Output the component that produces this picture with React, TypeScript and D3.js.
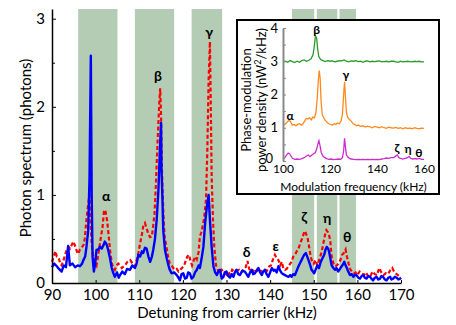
import React, { useEffect, useRef } from 'react';
import * as d3 from 'd3';

// shaded regions (kHz)
const bandStart = [96, 109, 122, 145, 150.7, 155.9];
const bandEnd = [105, 118, 129, 150.1, 155.4, 159.7];

// main spectrum, blue solid
const blueFreq = [
  90.0, 90.5, 91.1, 91.6, 92.2, 92.7, 93.2, 93.7, 94.1, 94.7, 95.3, 95.9, 96.4, 96.9, 97.2, 97.6, 97.9, 98.3,
  98.6, 98.9, 99.1, 99.3, 99.6, 99.9, 100.2, 100.6, 101.0, 101.4, 101.8, 102.1, 102.4, 102.7, 103.0, 103.3,
  103.7, 104.0, 104.4, 104.9, 105.3, 105.6, 106.1, 106.7, 107.2, 107.9, 108.4, 109.0, 109.4, 109.8, 110.2,
  110.6, 110.9, 111.3, 111.7, 112.1, 112.5, 112.9, 113.2, 113.6, 114.0, 114.4, 114.8, 115.0, 115.1, 115.3,
  115.5, 115.9, 116.3, 116.7, 117.0, 117.4, 118.0, 118.6, 119.0, 119.3, 119.7, 120.1, 120.5, 120.9, 121.2,
  121.6, 122.0, 122.4, 122.8, 123.2, 123.6, 123.9, 124.3, 124.7, 125.1, 125.5, 125.9, 126.2, 126.6, 127.0,
  127.4, 127.8, 128.1, 128.5, 128.9, 129.3, 129.6, 130.0, 130.4, 130.8, 131.2, 131.6, 131.9, 132.3, 132.7,
  133.1, 133.6, 134.2, 134.6, 135.0, 135.4, 135.8, 136.1, 136.5, 136.9, 137.3, 137.7, 138.1, 138.4, 138.8,
  139.2, 139.6, 140.0, 140.4, 140.8, 141.1, 141.5, 141.9, 142.3, 142.7, 143.0, 143.4, 143.8, 144.2, 144.6,
  144.9, 145.3, 145.7, 146.1, 146.5, 146.9, 147.2, 147.6, 147.8, 148.2, 148.5, 148.8, 149.2, 149.5, 149.8,
  150.1, 150.5, 150.8, 151.2, 151.6, 152.0, 152.4, 152.7, 153.0, 153.3, 153.5, 153.8, 154.1, 154.5, 154.9,
  155.2, 155.6, 156.0, 156.4, 156.7, 157.0, 157.3, 157.6, 157.9, 158.3, 158.7, 159.1, 159.4, 159.8, 160.2,
  160.6, 161.0, 161.4, 161.7, 162.1, 162.5, 162.9, 163.2, 163.6, 164.0, 164.4, 164.8, 165.2, 165.5, 165.9,
  166.3, 166.7, 167.1, 167.5, 167.8, 168.2, 168.6, 169.0, 169.4, 169.8, 170.0,
];
const blueVal = [
  0.18, 0.22, 0.19, 0.16, 0.13, 0.2, 0.18, 0.42, 0.2, 0.22, 0.18, 0.2, 0.19, 0.22, 0.26, 0.3, 0.41, 0.6,
  1.2, 2.58, 1.0, 0.3, 0.13, 0.22, 0.375, 0.38, 0.41, 0.39, 0.43, 0.47, 0.45, 0.41, 0.35, 0.28,
  0.17, 0.12, 0.07, 0.12, 0.06, 0.09, 0.13, 0.1, 0.16, 0.15, 0.2, 0.17, 0.22, 0.32, 0.3,
  0.36, 0.34, 0.4, 0.39, 0.3, 0.24, 0.3, 0.375, 0.5, 0.72, 1.06, 1.6, 1.82, 1.3, 0.98,
  0.6, 0.375, 0.28, 0.2, 0.15, 0.11, 0.12, 0.09, 0.06, 0.03, 0.1, 0.11, 0.05, 0.06, 0.12,
  0.11, 0.05, 0.07, 0.12, 0.15, 0.2, 0.17, 0.28, 0.41, 0.68, 0.87, 1.0, 0.72, 0.41, 0.19,
  0.12, 0.09, 0.13, 0.15, 0.05, 0.07, 0.12, 0.13, 0.08, 0.06, 0.1, 0.07, 0.12, 0.15, 0.1,
  0.09, 0.14, 0.13, 0.1, 0.07, 0.12, 0.15, 0.1, 0.11, 0.14, 0.17, 0.12, 0.09, 0.13, 0.15,
  0.1, 0.07, 0.12, 0.17, 0.14, 0.15, 0.12, 0.19, 0.14, 0.11, 0.1, 0.09, 0.08, 0.07, 0.09,
  0.07, 0.1, 0.09, 0.14, 0.19, 0.23, 0.26, 0.3, 0.32, 0.34, 0.3, 0.26, 0.2, 0.15, 0.13,
  0.11, 0.16, 0.2, 0.17, 0.24, 0.28, 0.32, 0.38, 0.41, 0.39, 0.36, 0.28, 0.2, 0.17, 0.15,
  0.17, 0.13, 0.16, 0.19, 0.21, 0.24, 0.2, 0.17, 0.13, 0.09, 0.1, 0.07, 0.09, 0.09, 0.06,
  0.05, 0.08, 0.09, 0.06, 0.05, 0.08, 0.07, 0.05, 0.03, 0.06, 0.07, 0.04, 0.05, 0.08, 0.07,
  0.04, 0.03, 0.06, 0.07, 0.04, 0.05, 0.07, 0.06, 0.04, 0.05, 0.06,
];

// main spectrum, red dashed
const redFreq = [
  90.0, 90.4, 90.8, 91.1, 91.5, 91.9, 92.2, 92.6, 93.0, 93.4, 93.8, 94.1, 94.5, 94.9, 95.3, 95.7, 96.0, 96.4,
  96.8, 97.2, 97.5, 97.9, 98.3, 98.6, 98.8, 99.1, 99.3, 99.7, 100.2, 100.6, 101.0, 101.3, 101.6, 101.9, 102.2,
  102.5, 102.7, 103.0, 103.3, 103.7, 104.0, 104.4, 104.8, 105.2, 105.6, 106.0, 106.7, 107.3, 107.9, 108.5,
  109.0, 109.4, 109.8, 110.2, 110.6, 110.9, 111.3, 111.7, 112.1, 112.5, 112.9, 113.2, 113.5, 113.8, 114.2,
  114.6, 114.8, 115.0, 115.2, 115.5, 115.8, 116.2, 116.6, 117.0, 117.4, 117.8, 118.2, 118.6, 119.0, 119.4,
  119.8, 120.3, 120.7, 121.0, 121.4, 121.8, 122.1, 122.5, 122.9, 123.2, 123.6, 123.9, 124.2, 124.6, 124.9,
  125.3, 125.6, 125.9, 126.2, 126.4, 126.6, 126.9, 127.2, 127.6, 128.0, 128.5, 128.9, 129.3, 129.7, 130.1,
  130.5, 130.9, 131.3, 131.8, 132.3, 132.9, 133.4, 133.9, 134.4, 134.8, 135.2, 135.6, 136.0, 136.5, 137.0,
  137.3, 137.8, 138.3, 138.8, 139.3, 139.8, 140.2, 140.6, 141.1, 141.5, 141.9, 142.3, 142.7, 143.0, 143.4,
  143.8, 144.2, 144.6, 144.9, 145.3, 145.7, 146.1, 146.5, 146.9, 147.3, 147.7, 148.0, 148.3, 148.6, 148.9,
  149.3, 149.6, 150.0, 150.4, 150.8, 151.1, 151.5, 151.8, 152.2, 152.6, 152.9, 153.2, 153.5, 153.8, 154.1,
  154.5, 154.9, 155.3, 155.7, 156.1, 156.5, 156.9, 157.3, 157.6, 158.0, 158.4, 158.8, 159.2, 159.6, 160.0,
  160.5, 161.0, 161.5, 162.0, 162.5, 163.0, 163.5, 164.0, 164.5, 165.0, 165.5, 166.0, 166.5, 167.0, 167.5,
  168.0, 168.5, 169.0, 169.5, 170.0,
];
const redVal = [
  0.24, 0.3, 0.36, 0.3, 0.29, 0.22, 0.2, 0.25, 0.32, 0.38, 0.41, 0.39, 0.43, 0.47, 0.42, 0.36, 0.33, 0.38,
  0.4, 0.43, 0.5, 0.72, 0.9, 1.0, 0.7, 0.45, 0.34, 0.25, 0.2, 0.32, 0.45, 0.55, 0.64, 0.81, 0.83,
  0.75, 0.68, 0.53, 0.375, 0.23, 0.18, 0.15, 0.2, 0.22, 0.2, 0.17, 0.2, 0.24, 0.26, 0.22,
  0.19, 0.26, 0.34, 0.45, 0.55, 0.64, 0.68, 0.62, 0.55, 0.52, 0.53, 0.65, 0.79, 1.1, 1.6,
  2.05, 2.21, 1.9, 1.3, 0.83, 0.53, 0.42, 0.3, 0.22, 0.2, 0.17, 0.15, 0.16, 0.13, 0.15,
  0.17, 0.2, 0.26, 0.3, 0.32, 0.24, 0.2, 0.26, 0.3, 0.27, 0.35, 0.53, 0.57, 0.66, 0.75,
  0.94, 1.5, 2.3, 2.74, 2.0, 1.2, 0.72, 0.41, 0.2, 0.15, 0.11, 0.15, 0.13, 0.11, 0.09,
  0.12, 0.09, 0.15, 0.13, 0.14, 0.15, 0.12, 0.15, 0.18, 0.25, 0.16, 0.13, 0.12, 0.16, 0.14,
  0.17, 0.13, 0.14, 0.15, 0.14, 0.19, 0.2, 0.26, 0.32, 0.28, 0.26, 0.2, 0.24, 0.17, 0.15,
  0.16, 0.19, 0.22, 0.24, 0.3, 0.32, 0.36, 0.39, 0.45, 0.5, 0.56, 0.59, 0.55, 0.51, 0.42,
  0.3, 0.25, 0.22, 0.26, 0.2, 0.24, 0.3, 0.35, 0.45, 0.55, 0.6, 0.58, 0.55, 0.47, 0.3,
  0.22, 0.19, 0.2, 0.22, 0.26, 0.32, 0.34, 0.38, 0.3, 0.22, 0.15, 0.13, 0.11, 0.12, 0.09,
  0.13, 0.11, 0.09, 0.12, 0.07, 0.08, 0.13, 0.1, 0.09, 0.17, 0.12, 0.09, 0.11, 0.1, 0.14,
  0.17, 0.12, 0.1, 0.08, 0.07,
];

// peak labels in the main plot
const peakNames = ['α', 'β', 'γ', 'δ', 'ε', 'ζ', 'η', 'θ'];
const peakFreq = [102.4, 114.3, 126, 134.6, 141.3, 147.8, 153.1, 157.7];
const peakVal = [0.99, 2.35, 2.85, 0.35, 0.42, 0.75, 0.74, 0.52];

// inset: phase-modulation power density, three offset traces
const greenFreq = [
  100, 101, 102, 103, 104, 105, 106, 107, 108, 109, 110, 111, 112, 112.8, 113.4, 113.8, 114.3, 114.7, 115.2,
  116, 117, 118, 119, 120, 121, 122, 123, 124, 125, 126, 127, 128, 129, 130, 131, 132, 133, 134, 135, 136,
  137, 138, 139, 140, 141, 142, 143, 144, 145, 146, 147, 148, 149, 150, 151, 152, 153, 154, 155, 156, 157,
  158, 159, 160,
];
const greenVal = [
  2.98, 3.0, 2.97, 3.02, 2.99, 2.96, 3.0, 2.97, 3.02, 3.04, 3.0, 3.03, 3.08, 3.2, 3.5, 3.76, 3.7, 3.4, 3.15,
  3.05, 3.02, 2.99, 3.02, 3.0, 3.01, 2.98, 3.0, 3.02, 3.01, 3.04, 3.0, 2.98, 3.01, 3.0, 3.02, 2.99, 3.0, 2.97,
  3.0, 3.01, 2.98, 3.0, 2.99, 3.0, 3.01, 2.98, 2.99, 3.0, 2.98, 3.0, 3.0, 2.98, 2.97, 3.0, 2.98, 2.99, 3.0,
  2.99, 2.98, 3.0, 2.99, 3.0, 2.98, 2.98,
];
const orangeFreq = [
  100, 100.8, 101.5, 102.2, 102.8, 103.4, 104, 104.8, 105.5, 106.3, 107, 107.8, 108.5, 109.2, 109.9, 110.6,
  111.3, 112, 112.7, 113.4, 114, 114.6, 115.0, 115.4, 115.8, 116.2, 116.7, 117.3, 118, 118.8, 119.5, 120.3,
  121, 121.8, 122.5, 123.2, 124, 124.7, 125.3, 125.8, 126.2, 126.6, 127, 127.6, 128.3, 129, 129.8, 130.5,
  131.3, 132, 133, 134, 135, 136, 137, 138, 139, 140, 141, 142, 143, 144, 145, 146, 147, 148, 149, 150, 151,
  152, 153, 154, 155, 156, 157, 158, 159, 160,
];
const orangeVal = [
  1.08, 1.1, 1.15, 1.2, 1.22, 1.15, 1.08, 1.1, 1.06, 1.1, 1.12, 1.08, 1.12, 1.2, 1.28, 1.26,
  1.3, 1.24, 1.32, 1.3, 1.45, 1.9, 2.4, 2.72, 2.5, 1.8, 1.4, 1.3, 1.22, 1.16, 1.12, 1.1,
  1.08, 1.12, 1.1, 1.14, 1.12, 1.2, 1.4, 2.0, 2.38, 1.9, 1.45, 1.3, 1.25, 1.2, 1.12, 1.1,
  1.06, 1.08, 1.04, 1.06, 1.02, 1.05, 1.03, 1.0, 1.04, 1.02, 1.0, 1.03, 1.0, 0.98, 1.02, 1.0, 0.99, 1.01, 0.98, 1.0, 0.97,
  1.0, 0.98, 0.99, 0.97, 1.0, 0.98, 0.97, 0.99, 0.98,
];
const magentaFreq = [
  100, 100.8, 101.5, 102.2, 102.8, 103.4, 104, 105, 106, 107, 108, 109, 110, 110.8, 111.5, 112.3, 113, 113.7,
  114.3, 114.8, 115.3, 115.8, 116.3, 117, 117.8, 118.6, 119.5, 120.5, 121.5, 122.5, 123.5, 124.5, 125.3, 125.8,
  126.2, 126.6, 127, 127.6, 128.3, 129, 130, 131, 132, 133, 134, 135, 136, 137, 138, 139, 140, 141, 142, 143,
  144, 145, 146, 147, 147.8, 148.6, 149.3, 150, 151, 152, 153, 153.7, 154.3, 155, 156, 157, 158, 159, 160,
];
const magentaVal = [
  0.05, 0.1, 0.18, 0.24, 0.22, 0.15, 0.08, 0.05, 0.06, 0.05, 0.07, 0.1, 0.15, 0.18, 0.13, 0.18, 0.22, 0.25,
  0.35, 0.5, 0.61, 0.45, 0.25, 0.15, 0.1, 0.07, 0.05, 0.06, 0.04, 0.05, 0.06, 0.05, 0.1, 0.3,
  0.68, 0.4, 0.18, 0.12, 0.08, 0.06, 0.05, 0.04, 0.05, 0.04, 0.05, 0.04, 0.05, 0.04, 0.05, 0.04, 0.05, 0.04, 0.06, 0.07,
  0.09, 0.08, 0.1, 0.1, 0.14, 0.18, 0.1, 0.08, 0.06, 0.08, 0.1, 0.14, 0.08, 0.06, 0.07, 0.06, 0.08, 0.05, 0.05,
];
const insetPeakNames = ['α', 'β', 'γ', 'ζ', 'η', 'θ'];
const insetPeakFreq = [103, 114.3, 126.7, 148.5, 153.2, 157.8];
const insetPeakVal = [1.36, 3.95, 2.6, 0.39, 0.36, 0.26];

export default function App() {
  const ref = useRef<SVGSVGElement>(null);

  useEffect(() => {
    const svg = d3.select(ref.current);
    svg.selectAll('*').remove();
    const font = 'Lato, sans-serif';
    const intFmt = d3.format('d');

    // ---- main plot ----
    const x = d3.scaleLinear().domain([90, 170]).range([52, 401]);
    const y = d3.scaleLinear().domain([0, 3.11]).range([283, 9]);

    svg
      .append('g')
      .selectAll('rect')
      .data(bandStart)
      .enter()
      .append('rect')
      .attr('x', (d) => x(d))
      .attr('width', (d, i) => x(bandEnd[i]) - x(d))
      .attr('y', y(3.11))
      .attr('height', y(0) - y(3.11))
      .attr('fill', '#b4ccb4');

    const mainLine = (fs: number[], vs: number[]) =>
      d3
        .line<number>()
        .x((d) => x(d))
        .y((d, i) => y(vs[i]))(fs);

    svg
      .append('path')
      .attr('d', mainLine(redFreq, redVal))
      .attr('fill', 'none')
      .attr('stroke', '#ff0000')
      .attr('stroke-width', 2.2)
      .attr('stroke-dasharray', '4,2.5');

    svg
      .append('path')
      .attr('d', mainLine(blueFreq, blueVal))
      .attr('fill', 'none')
      .attr('stroke', '#0000ff')
      .attr('stroke-width', 2.4)
      .attr('stroke-linejoin', 'round');

    const xAxis = svg
      .append('g')
      .attr('transform', 'translate(0,' + y(0) + ')')
      .call(
        d3.axisBottom(x).tickValues(d3.range(90, 171, 10)).tickFormat(intFmt).tickSizeInner(-3).tickSizeOuter(0).tickPadding(6)
      );
    const yAxis = svg
      .append('g')
      .attr('transform', 'translate(' + x(90) + ',0)')
      .call(d3.axisLeft(y).tickValues([0, 1, 2, 3]).tickFormat(intFmt).tickSizeInner(-4).tickSizeOuter(0).tickPadding(7));
    svg
      .append('g')
      .attr('transform', 'translate(' + x(90) + ',0)')
      .call(d3.axisLeft(y).tickValues([0.5, 1.5, 2.5]).tickFormat(() => '').tickSizeInner(-3).tickSizeOuter(0))
      .select('.domain')
      .remove();
    [xAxis, yAxis].forEach((g) => {
      g.attr('font-family', font).attr('font-size', 15);
      g.select('.domain').attr('stroke-width', 1.5);
    });

    svg
      .append('text')
      .attr('x', 227)
      .attr('y', 318)
      .attr('text-anchor', 'middle')
      .attr('font-family', font)
      .attr('font-size', 15)
      .text('Detuning from carrier (kHz)');
    svg
      .append('text')
      .attr('transform', 'translate(31,148) rotate(-90)')
      .attr('text-anchor', 'middle')
      .attr('font-family', font)
      .attr('font-size', 15)
      .text('Photon spectrum (photons)');

    svg
      .append('g')
      .selectAll('text')
      .data(peakNames)
      .enter()
      .append('text')
      .attr('x', (d, i) => x(peakFreq[i]))
      .attr('y', (d, i) => y(peakVal[i]))
      .attr('dy', '0.35em')
      .attr('text-anchor', 'middle')
      .attr('font-family', font)
      .attr('font-weight', 'bold')
      .attr('font-size', 14)
      .text((d) => d);

    // ---- inset ----
    svg
      .append('rect')
      .attr('x', 237)
      .attr('y', 20)
      .attr('width', 202)
      .attr('height', 174)
      .attr('fill', 'white')
      .attr('stroke', 'black')
      .attr('stroke-width', 2);

    const ix = d3.scaleLinear().domain([100, 160]).range([283, 424]);
    const iy = d3.scaleLinear().domain([0, 4]).range([161, 28]);

    const insetLine = (fs: number[], vs: number[]) =>
      d3
        .line<number>()
        .x((d) => ix(d))
        .y((d, i) => iy(vs[i]))(fs);

    const traces: [number[], number[], string][] = [
      [greenFreq, greenVal, '#2a9a2a'],
      [orangeFreq, orangeVal, '#ff8a1c'],
      [magentaFreq, magentaVal, '#cc2ccc'],
    ];
    traces.forEach(([fs, vs, c]) => {
      svg
        .append('path')
        .attr('d', insetLine(fs, vs))
        .attr('fill', 'none')
        .attr('stroke', c)
        .attr('stroke-width', 1.3);
    });

    const ixAxis = svg
      .append('g')
      .attr('transform', 'translate(0,' + iy(0) + ')')
      .call(
        d3.axisBottom(ix).tickValues([100, 120, 140, 160]).tickFormat(intFmt).tickSizeInner(0).tickSizeOuter(0).tickPadding(3)
      );
    ixAxis.select('.domain').remove();
    const iyAxis = svg
      .append('g')
      .attr('transform', 'translate(' + ix(100) + ',0)')
      .call(d3.axisLeft(iy).tickValues([0, 1, 2, 3, 4]).tickFormat(intFmt).tickSizeInner(-3).tickSizeOuter(0).tickPadding(5));
    svg
      .append('g')
      .attr('transform', 'translate(' + ix(100) + ',0)')
      .call(d3.axisLeft(iy).tickValues([0.5, 1.5, 2.5, 3.5]).tickFormat(() => '').tickSizeInner(-3).tickSizeOuter(0))
      .call((g) => g.select('.domain').remove())
      .selectAll('line')
      .attr('stroke', '#888');
    ixAxis.attr('font-family', font).attr('font-size', 12);
    iyAxis.attr('font-family', font).attr('font-size', 13);
    iyAxis.select('.domain').attr('stroke', '#888').attr('stroke-width', 2);
    iyAxis.selectAll('line').attr('stroke', '#888');
    // keep the bottom "0" clear of the "100" below it
    iyAxis
      .selectAll('.tick text')
      .attr('x', (d) => (d === 0 ? -10 : -5))
      .attr('dy', (d) => (d === 0 ? '0.15em' : '0.32em'));

    svg
      .append('text')
      .attr('x', ix(130))
      .attr('y', 190.5)
      .attr('text-anchor', 'middle')
      .attr('font-family', font)
      .attr('font-size', 12)
      .text('Modulation frequency (kHz)');
    const ylab = svg
      .append('text')
      .attr('transform', 'translate(251,100) rotate(-90)')
      .attr('text-anchor', 'middle')
      .attr('font-family', font)
      .attr('font-size', 13);
    ylab.append('tspan').attr('x', 0).attr('dy', 0).text('Phase-modulation');
    const l2 = ylab.append('tspan').attr('x', 0).attr('dy', 15);
    l2.append('tspan').text('power density (nW');
    l2.append('tspan').attr('font-size', 9).attr('dy', -5).text('2');
    l2.append('tspan').attr('dy', 5).text('/kHz)');

    svg
      .append('g')
      .selectAll('text')
      .data(insetPeakNames)
      .enter()
      .append('text')
      .attr('x', (d, i) => ix(insetPeakFreq[i]))
      .attr('y', (d, i) => iy(insetPeakVal[i]))
      .attr('dy', '0.35em')
      .attr('text-anchor', 'middle')
      .attr('font-family', font)
      .attr('font-weight', 'bold')
      .attr('font-size', 12)
      .text((d) => d);
  }, []);

  return (
    <svg
      ref={ref}
      width={456}
      height={325}
      style={{ position: 'absolute', left: 0, top: 0, background: 'white' }}
    />
  );
}
